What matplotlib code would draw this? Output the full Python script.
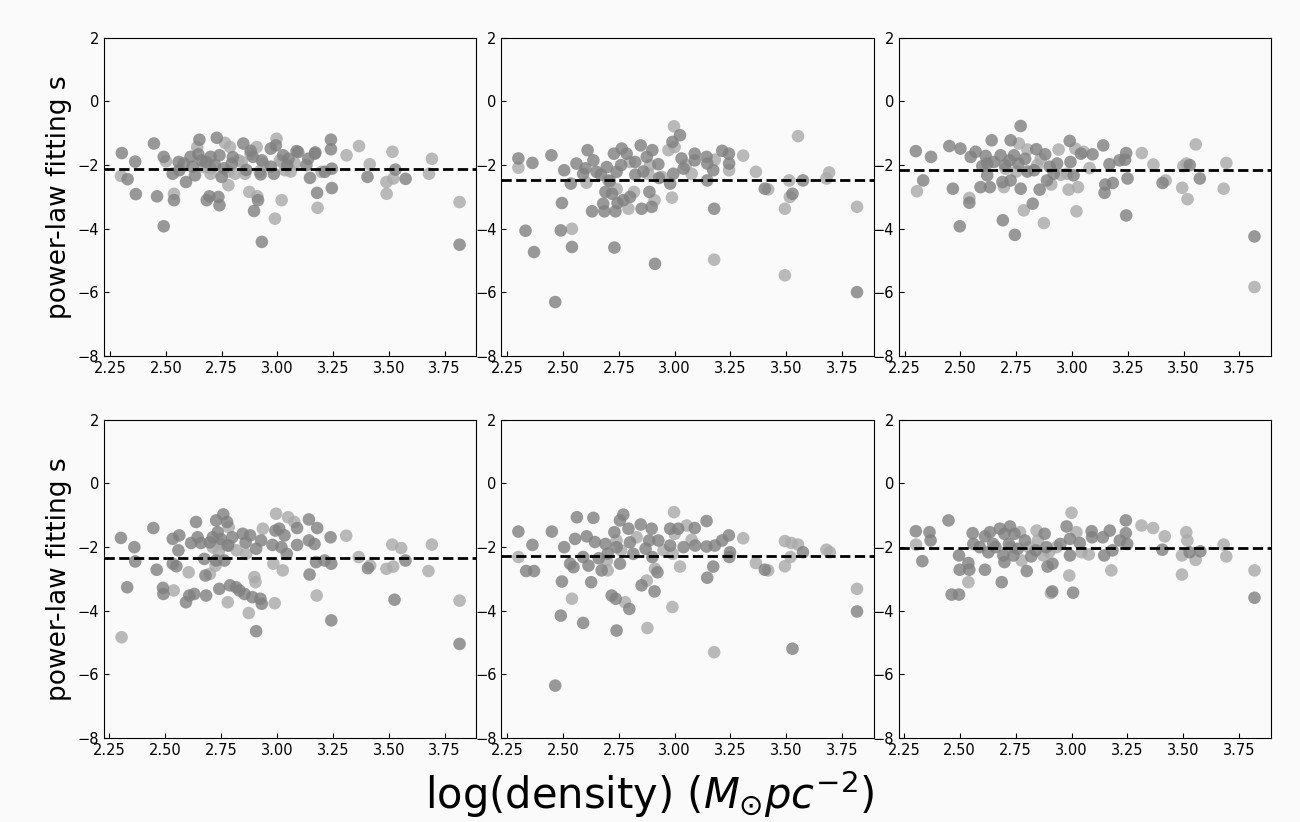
import matplotlib.pyplot as plt
import numpy as np

# (log density, power-law slope s)
p1_dark = np.array([
    [2.302, -1.62], [2.328, -2.44], [2.362, -1.89], [2.365, -2.91], [2.446, -1.32],
    [2.46, -2.98], [2.49, -3.92], [2.49, -1.74], [2.53, -2.27], [2.536, -3.1],
    [2.557, -1.9], [2.56, -2.16], [2.59, -2.53], [2.61, -1.74], [2.63, -2.32],
    [2.65, -1.2], [2.645, -1.66], [2.66, -1.85], [2.683, -3.1], [2.695, -2.98],
    [2.70, -1.74], [2.728, -1.14], [2.735, -3.0], [2.74, -3.26], [2.74, -1.69],
    [2.75, -2.37], [2.795, -1.95], [2.847, -1.32], [2.88, -1.55], [2.89, -1.74],
    [2.895, -3.44], [2.913, -3.1], [2.93, -4.41], [2.925, -2.29], [2.97, -1.48],
    [2.984, -2.27], [2.993, -1.38], [3.026, -1.69], [3.044, -2.0], [3.093, -1.59],
    [3.138, -1.8], [3.146, -2.40], [3.168, -1.64], [3.178, -2.87], [3.213, -2.21],
    [3.24, -1.2], [3.24, -1.50], [3.244, -2.11], [3.244, -2.72], [3.404, -2.37],
    [3.529, -2.14], [3.575, -2.43], [3.817, -4.50], [2.58, -1.95], [2.62, -2.05],
    [2.68, -1.9], [2.72, -2.0], [2.76, -2.1], [2.80, -1.75], [2.86, -2.15],
    [2.93, -1.85], [2.97, -2.05], [3.05, -1.8], [3.13, -2.0], [3.086, -1.56],
    [3.17, -1.6]])
p1_light = np.array([
    [2.298, -2.34], [2.50, -1.88], [2.536, -2.9], [2.64, -1.43], [2.67, -2.06],
    [2.70, -2.27], [2.765, -1.30], [2.78, -2.63], [2.787, -1.43], [2.81, -2.27],
    [2.825, -1.85], [2.855, -2.27], [2.874, -2.84], [2.907, -1.43], [2.91, -2.98],
    [2.937, -1.95], [2.989, -3.68], [2.996, -1.17], [3.011, -1.85], [3.019, -3.1],
    [3.034, -2.16], [3.078, -1.95], [3.18, -3.34], [3.198, -2.21], [3.31, -1.69],
    [3.366, -1.40], [3.414, -1.97], [3.49, -2.9], [3.489, -2.53], [3.516, -1.58],
    [3.52, -2.42], [3.68, -2.27], [3.693, -1.8], [3.817, -3.16], [2.70, -2.1],
    [2.78, -2.2], [2.84, -1.9], [2.92, -2.2], [3.02, -1.9], [3.06, -2.2],
    [2.88, -1.65]])

p2_dark = np.array([
    [2.30, -1.79], [2.363, -1.93], [2.332, -4.06], [2.37, -4.73], [2.448, -1.69],
    [2.465, -6.30], [2.495, -3.19], [2.49, -4.05], [2.505, -2.16], [2.54, -4.57],
    [2.535, -2.58], [2.56, -1.95], [2.59, -2.27], [2.61, -1.53], [2.63, -3.45],
    [2.636, -1.85], [2.65, -2.21], [2.68, -3.21], [2.685, -3.45], [2.69, -2.84],
    [2.696, -2.06], [2.728, -1.64], [2.73, -4.59], [2.735, -3.45], [2.74, -2.21],
    [2.744, -3.19], [2.763, -1.48], [2.77, -3.1], [2.785, -1.64], [2.80, -3.0],
    [2.823, -1.90], [2.824, -2.30], [2.848, -1.38], [2.852, -3.37], [2.875, -1.74],
    [2.887, -2.84], [2.897, -3.31], [2.90, -1.53], [2.912, -5.1], [2.927, -1.97],
    [2.98, -2.58], [2.99, -1.27], [2.994, -2.27], [3.024, -1.06], [3.031, -1.79],
    [3.04, -2.11], [3.09, -1.64], [3.09, -1.85], [3.143, -1.74], [3.146, -1.95],
    [3.146, -2.48], [3.173, -2.16], [3.177, -3.37], [3.213, -1.55], [3.243, -1.64],
    [3.244, -1.95], [3.404, -2.74], [3.528, -2.9], [3.575, -2.48], [3.817, -5.99],
    [2.60, -2.1], [2.67, -2.3], [2.71, -2.5], [2.76, -2.0], [2.86, -2.2],
    [2.93, -2.4], [2.72, -2.9]])
p2_light = np.array([
    [2.30, -2.08], [2.54, -4.0], [2.605, -2.55], [2.703, -2.48], [2.793, -3.37],
    [2.818, -2.84], [2.882, -2.27], [2.91, -3.1], [2.942, -2.37], [2.972, -1.53],
    [2.988, -3.02], [2.997, -0.78], [3.0, -1.43], [3.076, -2.27], [3.18, -1.83],
    [3.177, -4.97], [3.244, -2.16], [3.307, -1.70], [3.364, -2.21], [3.419, -2.76],
    [3.494, -3.37], [3.513, -2.48], [3.516, -3.0], [3.553, -1.09], [3.494, -5.46],
    [3.68, -2.42], [3.692, -2.23], [3.817, -3.31], [2.74, -2.75], [2.80, -1.9],
    [2.89, -2.0], [3.05, -2.0]])

p3_dark = np.array([
    [2.30, -1.56], [2.333, -2.48], [2.368, -1.74], [2.45, -1.40], [2.466, -2.74],
    [2.497, -3.92], [2.50, -1.48], [2.54, -3.18], [2.546, -1.74], [2.568, -1.58],
    [2.59, -2.69], [2.598, -2.03], [2.613, -1.71], [2.62, -2.32], [2.632, -2.69],
    [2.64, -1.22], [2.65, -1.90], [2.68, -1.69], [2.688, -2.53], [2.69, -3.73],
    [2.725, -1.22], [2.725, -2.48], [2.74, -1.69], [2.744, -4.19], [2.77, -0.77],
    [2.77, -2.74], [2.79, -1.80], [2.824, -3.21], [2.83, -2.16], [2.84, -1.50],
    [2.855, -2.77], [2.88, -1.66], [2.888, -2.48], [2.918, -2.27], [2.933, -1.95],
    [2.99, -1.24], [2.993, -1.90], [3.007, -2.32], [3.04, -1.64], [3.092, -1.66],
    [3.14, -1.38], [3.146, -2.87], [3.149, -2.61], [3.168, -1.97], [3.183, -2.56],
    [3.213, -1.85], [3.243, -1.62], [3.238, -1.83], [3.249, -2.42], [3.243, -3.58],
    [3.406, -2.56], [3.528, -2.0], [3.573, -2.42], [3.818, -4.24], [2.70, -2.0],
    [2.76, -1.95], [2.72, -1.85], [2.62, -1.95], [2.80, -2.2], [2.90, -2.05]])
p3_light = np.array([
    [2.305, -2.82], [2.54, -3.03], [2.695, -2.69], [2.702, -2.11], [2.762, -1.32],
    [2.784, -3.42], [2.80, -1.51], [2.844, -2.0], [2.874, -3.82], [2.907, -2.61],
    [2.94, -1.51], [2.978, -2.27], [2.985, -2.77], [3.015, -1.48], [3.02, -3.45],
    [3.027, -2.69], [3.052, -1.58], [3.079, -2.09], [3.313, -1.62], [3.365, -1.98],
    [3.42, -2.48], [3.494, -2.71], [3.499, -2.03], [3.513, -1.95], [3.518, -3.07],
    [3.555, -1.35], [3.68, -2.74], [3.692, -1.93], [3.818, -5.83], [2.75, -2.2],
    [2.86, -1.8], [2.95, -2.3]])

p4_dark = np.array([
    [2.302, -1.71], [2.33, -3.26], [2.362, -2.0], [2.366, -2.45], [2.447, -1.40],
    [2.462, -2.71], [2.49, -3.28], [2.492, -3.47], [2.534, -1.74], [2.534, -2.52],
    [2.55, -2.60], [2.563, -1.63], [2.559, -2.10], [2.593, -3.73], [2.608, -3.52],
    [2.63, -3.47], [2.616, -1.87], [2.638, -1.21], [2.645, -1.69], [2.66, -1.87],
    [2.675, -2.37], [2.68, -2.89], [2.683, -3.52], [2.713, -1.69], [2.728, -1.16],
    [2.728, -2.42], [2.735, -1.53], [2.742, -3.31], [2.76, -0.97], [2.765, -2.42],
    [2.777, -1.21], [2.79, -3.20], [2.80, -1.69], [2.817, -3.26], [2.832, -3.36],
    [2.847, -1.58], [2.855, -3.47], [2.88, -1.63], [2.89, -3.57], [2.907, -4.64],
    [2.907, -2.05], [2.926, -3.62], [2.932, -3.78], [2.929, -1.79], [2.98, -1.93],
    [2.993, -1.48], [3.01, -1.42], [3.02, -2.0], [3.034, -1.63], [3.044, -2.21],
    [3.09, -1.40], [3.09, -1.93], [3.143, -1.13], [3.143, -1.79], [3.146, -2.86],
    [3.168, -1.90], [3.175, -2.47], [3.18, -1.40], [3.213, -2.42], [3.24, -1.69],
    [3.243, -2.52], [3.243, -4.30], [3.407, -2.66], [3.526, -3.65], [3.575, -2.42],
    [3.817, -5.04], [2.70, -1.85], [2.75, -1.75], [2.78, -1.95], [2.86, -1.85]])
p4_light = np.array([
    [2.305, -4.83], [2.538, -3.36], [2.605, -2.79], [2.70, -2.84], [2.713, -2.0],
    [2.725, -2.58], [2.75, -1.90], [2.784, -1.37], [2.787, -1.95], [2.78, -3.73],
    [2.862, -2.21], [2.874, -4.07], [2.899, -2.94], [2.904, -3.10], [2.937, -1.42],
    [2.984, -2.52], [2.99, -3.76], [2.996, -0.95], [3.026, -2.73], [3.05, -1.06],
    [3.078, -1.21], [3.178, -3.52], [3.31, -1.64], [3.366, -2.31], [3.417, -2.58],
    [3.49, -2.68], [3.52, -2.61], [3.516, -1.92], [3.556, -2.03], [3.678, -2.75],
    [3.693, -1.92], [3.817, -3.68], [2.74, -2.15], [2.82, -2.1]])

p5_dark = np.array([
    [2.30, -1.51], [2.335, -2.75], [2.37, -2.75], [2.363, -1.93], [2.45, -1.51],
    [2.465, -6.35], [2.495, -3.08], [2.49, -4.15], [2.505, -2.0], [2.532, -2.52],
    [2.547, -2.63], [2.554, -1.74], [2.562, -1.06], [2.59, -2.31], [2.59, -4.38],
    [2.606, -1.66], [2.614, -2.58], [2.626, -3.10], [2.636, -1.08], [2.643, -1.84],
    [2.673, -2.73], [2.69, -1.90], [2.718, -3.52], [2.73, -1.53], [2.736, -3.62],
    [2.74, -4.62], [2.755, -2.52], [2.755, -1.16], [2.77, -0.98], [2.793, -1.42],
    [2.797, -3.94], [2.815, -2.21], [2.848, -1.29], [2.852, -3.20], [2.886, -1.79],
    [2.897, -1.42], [2.90, -2.31], [2.91, -3.39], [2.923, -2.79], [2.927, -1.79],
    [2.98, -1.42], [2.98, -1.95], [3.016, -1.42], [3.04, -2.0], [3.092, -1.95],
    [3.09, -1.40], [3.143, -1.18], [3.143, -1.98], [3.146, -2.96], [3.173, -2.61],
    [3.18, -1.95], [3.213, -1.79], [3.243, -1.63], [3.248, -2.16], [3.245, -2.31],
    [3.404, -2.71], [3.528, -5.19], [3.575, -2.16], [3.817, -4.02], [2.70, -2.2],
    [2.74, -2.0], [2.66, -2.35], [2.80, -1.85], [2.87, -2.05]])
p5_light = np.array([
    [2.30, -2.31], [2.54, -3.62], [2.696, -2.42], [2.70, -2.73], [2.74, -1.79],
    [2.778, -3.73], [2.83, -1.69], [2.875, -3.05], [2.878, -4.54], [2.912, -2.68],
    [2.991, -2.21], [2.99, -3.88], [2.997, -0.90], [3.0, -1.58], [3.024, -2.61],
    [3.054, -1.32], [3.076, -1.77], [3.177, -5.30], [3.307, -1.72], [3.364, -2.50],
    [3.419, -2.73], [3.494, -2.60], [3.494, -1.81], [3.523, -1.87], [3.519, -2.31],
    [3.553, -1.92], [3.68, -2.08], [3.695, -2.16], [3.817, -3.31], [2.76, -2.1],
    [2.95, -2.1]])

p6_dark = np.array([
    [2.304, -1.50], [2.333, -2.44], [2.365, -1.53], [2.37, -1.79], [2.45, -1.16],
    [2.464, -3.49], [2.497, -3.49], [2.497, -2.26], [2.50, -2.71], [2.539, -2.50],
    [2.543, -2.71], [2.558, -1.56], [2.561, -1.90], [2.59, -2.0], [2.613, -1.66],
    [2.613, -2.71], [2.628, -2.16], [2.635, -1.53], [2.65, -1.90], [2.68, -1.42],
    [2.688, -3.10], [2.695, -2.26], [2.70, -2.47], [2.70, -1.58], [2.725, -1.35],
    [2.74, -2.26], [2.745, -1.58], [2.792, -1.79], [2.80, -2.75], [2.82, -2.29],
    [2.88, -1.58], [2.888, -2.0], [2.893, -2.61], [2.914, -3.39], [2.915, -2.52],
    [2.978, -1.35], [2.993, -1.74], [2.993, -2.26], [3.007, -3.43], [3.037, -1.87],
    [3.09, -1.50], [3.092, -1.69], [3.14, -1.69], [3.146, -2.26], [3.171, -1.48],
    [3.183, -2.10], [3.216, -1.79], [3.243, -1.16], [3.243, -1.56], [3.249, -1.90],
    [3.406, -2.08], [3.528, -2.16], [3.576, -2.13], [3.818, -3.59], [2.66, -2.0],
    [2.72, -1.9], [2.76, -2.05], [2.84, -2.1], [2.95, -1.9]])
p6_light = np.array([
    [2.305, -1.92], [2.539, -3.10], [2.73, -2.0], [2.77, -1.53], [2.777, -2.42],
    [2.844, -1.48], [2.85, -1.79], [2.874, -2.26], [2.908, -3.44], [2.933, -2.0],
    [2.99, -2.89], [3.0, -0.92], [3.022, -1.53], [3.045, -2.16], [3.077, -2.23],
    [3.178, -2.73], [3.313, -1.32], [3.365, -1.40], [3.417, -1.66], [3.494, -2.26],
    [3.494, -2.86], [3.513, -1.53], [3.518, -1.79], [3.555, -2.40], [3.68, -1.92],
    [3.692, -2.29], [3.818, -2.73], [2.81, -2.0], [2.90, -2.15]])

dark_sets = [p1_dark, p2_dark, p3_dark, p4_dark, p5_dark, p6_dark]
light_sets = [p1_light, p2_light, p3_light, p4_light, p5_light, p6_light]
medians = [-2.11, -2.48, -2.16, -2.33, -2.28, -2.04]

bg = '#fafafa'
fig, axes = plt.subplots(2, 3, figsize=(13, 8.22), dpi=100, facecolor=bg)
fig.subplots_adjust(left=0.08, right=0.978, top=0.954, bottom=0.102,
                    wspace=0.067, hspace=0.2)

for i, ax in enumerate(axes.flat):
    ax.set_facecolor(bg)
    lt = light_sets[i]
    dk = dark_sets[i]
    ax.scatter(lt[:, 0], lt[:, 1], s=82, color='darkgrey', alpha=0.8,
               edgecolors='none', zorder=2)
    ax.scatter(dk[:, 0], dk[:, 1], s=82, color='grey', alpha=0.8,
               edgecolors='none', zorder=3)
    ax.axhline(medians[i], color='k', ls='--', lw=2, zorder=4)
    ax.set_ylim(-8, 2)
    ax.set_xticks([2.25, 2.5, 2.75, 3.0, 3.25, 3.5, 3.75])
    ax.set_yticks([-8, -6, -4, -2, 0, 2])
    ax.tick_params(direction='in', labelsize=10.5)
    if i % 3 == 0:
        ax.set_ylabel('power-law fitting s', fontsize=19)

fig.text(0.5, 0.002, r'log(density) ($M_{\odot}pc^{-2}$)', ha='center',
         va='bottom', fontsize=30)

fig.savefig('out.png', facecolor=bg)
